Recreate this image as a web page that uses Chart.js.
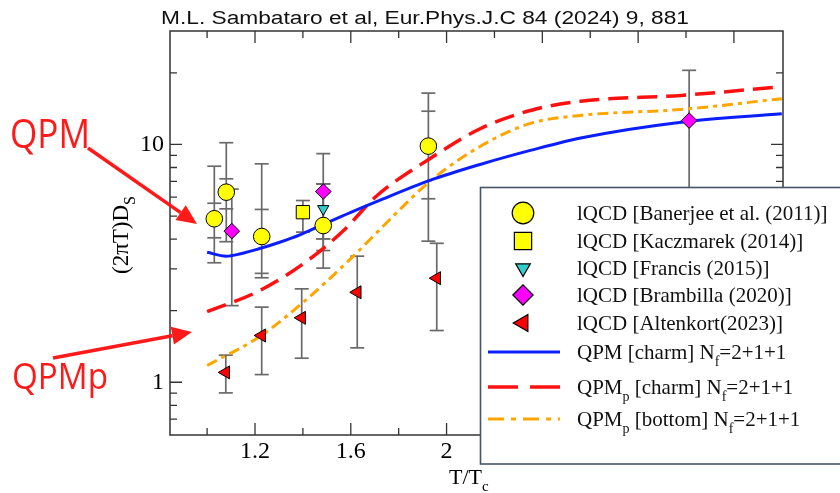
<!DOCTYPE html>
<html>
<head>
<meta charset="utf-8">
<script src="https://cdn.jsdelivr.net/npm/chart.js@4.4.1/dist/chart.umd.min.js"></script>
<style>
  html, body { margin: 0; padding: 0; background: #fff; }
</style>
</head>
<body>
<canvas id="dsChart" width="840" height="493"></canvas>
<script>
// axis ticks
const xTicks = [1.2, 1.6, 2, 2.4, 2.8, 3.2];
const xMinorTicks = [1.0, 1.4, 1.8, 2.2, 2.6, 3.0];
const yTicks = [1, 10];
const yMinorTicks = [0.7, 0.8, 0.9, 2, 3, 4, 5, 6, 7, 8, 9, 20];

// lQCD points: T/Tc, (2piT)Ds, outer and inner error ranges
const banerjeeT = [1.03, 1.08, 1.228, 1.485, 1.924];
const banerjeeD = [4.87, 6.30, 4.10, 4.56, 9.84];
const banerjeeOuter = [[3.18, 8.10], [3.90, 10.17], [2.75, 8.29], [3.58, 6.83], [3.92, 16.44]];
const banerjeeInner = [[4.05, 5.66], [5.36, 7.17], [2.87, 5.33], [4.01, 6.83], [5.91, 13.8]];

const kaczmarekT = [1.40];
const kaczmarekD = [5.19];
const kaczmarekErr = [[4.28, 5.81]];

const francisT = [1.485];
const francisD = [5.36];
const francisErr = [[4.01, 6.83]];

const brambillaT = [1.103, 1.485, 3.013];
const brambillaD = [4.32, 6.34, 12.6];
const brambillaErr = [[2.10, 6.49], [3.02, 9.15], [5.0, 20.5]];

const altenkortT = [1.078, 1.228, 1.395, 1.627, 1.959];
const altenkortD = [1.10, 1.573, 1.866, 2.39, 2.74];
const altenkortErr = [[0.902, 1.30], [1.077, 2.07], [1.262, 2.47], [1.395, 3.39], [1.65, 3.84]];

// model curves
const qpmT = [1.0, 1.08, 1.14, 1.22, 1.30, 1.39, 1.485, 1.60, 1.71, 1.93, 2.14, 2.35, 2.56, 2.98, 3.40];
const qpmD = [3.52, 3.39, 3.47, 3.65, 3.87, 4.18, 4.61, 5.18, 5.76, 7.06, 8.24, 9.44, 10.65, 12.41, 13.46];

const qpmpCharmT = [1.0, 1.22, 1.42, 1.57, 1.71, 1.93, 2.14, 2.35, 2.56, 2.98, 3.40];
const qpmpCharmD = [1.98, 2.43, 3.25, 4.35, 6.10, 8.71, 11.64, 13.9, 15.2, 16.08, 17.5];

const qpmpBottomT = [1.0, 1.22, 1.40, 1.60, 1.78, 1.93, 2.14, 2.35, 2.56, 2.98, 3.40];
const qpmpBottomD = [1.176, 1.557, 2.164, 3.31, 5.03, 6.99, 9.81, 12.26, 13.25, 14.04, 15.57];

const toPoints = (xs, ys) => xs.map((t, i) => ({ x: t, y: ys[i] }));

const SERIF = "'Liberation Serif', 'Times New Roman', serif";

function drawRich(ctx, parts, x, y, size) {
    let cx = x;
    parts.forEach(p => {
        const sub = p[1] === 1;
        ctx.font = (sub ? Math.round(size * 0.68) : size) + 'px ' + SERIF;
        ctx.fillText(p[0], cx, sub ? y + size * 0.32 : y);
        cx += ctx.measureText(p[0]).width;
    });
    return cx - x;
}

function richWidth(ctx, parts, size) {
    let w = 0;
    parts.forEach(p => {
        ctx.font = (p[1] === 1 ? Math.round(size * 0.68) : size) + 'px ' + SERIF;
        w += ctx.measureText(p[0]).width;
    });
    return w;
}

function fitText(ctx, text, x, baseline, width, size, family) {
    ctx.font = size + 'px ' + family;
    const w = ctx.measureText(text).width;
    ctx.save();
    ctx.translate(x, baseline);
    ctx.scale(width / w, 1);
    ctx.fillText(text, 0, 0);
    ctx.restore();
}

function arrow(ctx, x1, y1, x2, y2) {
    const a = Math.atan2(y2 - y1, x2 - x1);
    const len = 20, hw = 9;
    const bx = x2 - Math.cos(a) * len, by = y2 - Math.sin(a) * len;
    ctx.beginPath();
    ctx.moveTo(x1, y1);
    ctx.lineTo(bx, by);
    ctx.stroke();
    ctx.beginPath();
    ctx.moveTo(x2, y2);
    ctx.lineTo(bx - Math.sin(a) * hw, by + Math.cos(a) * hw);
    ctx.lineTo(bx + Math.sin(a) * hw, by - Math.cos(a) * hw);
    ctx.closePath();
    ctx.fill();
}

// error bars drawn under the markers and curves
const errorBars = {
    id: 'errorBars',
    beforeDatasetsDraw(chart) {
        const { ctx, chartArea: ca, scales: { x, y } } = chart;
        ctx.save();
        ctx.beginPath();
        ctx.rect(ca.left, ca.top, ca.width, ca.height);
        ctx.clip();
        ctx.strokeStyle = '#6a6a6a';
        ctx.lineWidth = 1.7;
        const cap = (px, v) => {
            const py = y.getPixelForValue(v);
            ctx.beginPath();
            ctx.moveTo(px - 7, py);
            ctx.lineTo(px + 7, py);
            ctx.stroke();
        };
        chart.data.datasets.forEach(ds => {
            if (!ds.errOuter) return;
            ds.data.forEach((p, i) => {
                const px = x.getPixelForValue(p.x);
                const o = ds.errOuter[i];
                ctx.beginPath();
                ctx.moveTo(px, y.getPixelForValue(o[0]));
                ctx.lineTo(px, y.getPixelForValue(o[1]));
                ctx.stroke();
                cap(px, o[0]);
                cap(px, o[1]);
                if (ds.errInner) {
                    cap(px, ds.errInner[i][0]);
                    cap(px, ds.errInner[i][1]);
                }
            });
        });
        ctx.restore();
    }
};

// frame with inward ticks, titles, annotations and legend
const decorations = {
    id: 'decorations',
    afterDraw(chart) {
        const { ctx, chartArea: ca, scales: { x, y } } = chart;
        ctx.save();

        // frame
        ctx.strokeStyle = '#333';
        ctx.lineWidth = 1.5;
        ctx.strokeRect(ca.left, ca.top, ca.width, ca.height);
        ctx.lineWidth = 1.3;
        const tx = (v, len) => {
            const px = x.getPixelForValue(v);
            ctx.beginPath();
            ctx.moveTo(px, ca.bottom); ctx.lineTo(px, ca.bottom - len);
            ctx.moveTo(px, ca.top); ctx.lineTo(px, ca.top + len);
            ctx.stroke();
        };
        const ty = (v, len) => {
            const py = y.getPixelForValue(v);
            ctx.beginPath();
            ctx.moveTo(ca.left, py); ctx.lineTo(ca.left + len, py);
            ctx.moveTo(ca.right, py); ctx.lineTo(ca.right - len, py);
            ctx.stroke();
        };
        xTicks.forEach(v => tx(v, 12));
        xMinorTicks.forEach(v => tx(v, 7));
        yTicks.forEach(v => ty(v, 12));
        yMinorTicks.forEach(v => ty(v, 7));

        // title
        ctx.fillStyle = '#111';
        ctx.textBaseline = 'alphabetic';
        fitText(ctx, 'M.L. Sambataro et al, Eur.Phys.J.C 84 (2024) 9, 881', 161, 24, 528, 18, "'Liberation Sans', Arial, sans-serif");

        // y title
        ctx.fillStyle = '#000';
        const yParts = [['(2\u03c0T)D'], ['S', 1]];
        ctx.save();
        ctx.translate(128, 235);
        ctx.rotate(-Math.PI / 2);
        const yw = richWidth(ctx, yParts, 23);
        drawRich(ctx, yParts, -yw / 2, 0, 23);
        ctx.restore();

        // annotations
        ctx.fillStyle = '#ff1a1a';
        ctx.strokeStyle = '#ff1a1a';
        ctx.lineWidth = 3.5;
        fitText(ctx, 'QPM', 10, 148, 80, 41, "'Open Sans', sans-serif");
        fitText(ctx, 'QPMp', 12, 389, 96, 37, "'Open Sans', sans-serif");
        arrow(ctx, 88, 148, 197, 224);
        arrow(ctx, 53, 358, 192, 332);

        // legend
        const lx = 480.5, ly = 187.5;
        ctx.fillStyle = '#fff';
        ctx.fillRect(lx, ly, 860 - lx, 464 - ly);
        ctx.strokeStyle = '#44546a';
        ctx.lineWidth = 1.6;
        ctx.strokeRect(lx, ly, 860 - lx, 464 - ly);

        const rows = [213, 241, 268, 295, 323, 352, 387, 419];
        const texts = [
            [['lQCD [Banerjee et al. (2011)]']],
            [['lQCD [Kaczmarek (2014)]']],
            [['lQCD [Francis (2015)]']],
            [['lQCD [Brambilla (2020)]']],
            [['lQCD [Altenkort(2023)]']],
            [['QPM [charm] N'], ['f', 1], ['=2+1+1']],
            [['QPM'], ['p', 1], [' [charm] N'], ['f', 1], ['=2+1+1']],
            [['QPM'], ['p', 1], [' [bottom] N'], ['f', 1], ['=2+1+1']]
        ];
        const order = [3, 4, 5, 6, 7, 0, 1, 2];
        rows.forEach((ry, i) => {
            const ds = chart.data.datasets[order[i]];
            if (ds.showLine) {
                ctx.strokeStyle = ds.borderColor;
                ctx.lineWidth = ds.borderWidth;
                ctx.setLineDash(ds.legendDash || []);
                ctx.beginPath();
                ctx.moveTo(488, ry);
                ctx.lineTo(560, ry);
                ctx.stroke();
                ctx.setLineDash([]);
            } else {
                ctx.fillStyle = ds.backgroundColor;
                ctx.strokeStyle = '#000';
                ctx.lineWidth = 1.2;
                Chart.helpers.drawPoint(ctx, {
                    pointStyle: ds.pointStyle,
                    rotation: ds.pointRotation || 0,
                    radius: ds.pointRadius * 1.3,
                    borderWidth: 1.2
                }, 523, ry);
            }
            ctx.fillStyle = '#111';
            drawRich(ctx, texts[i], 577, ry + 7, 21);
        });

        // x title
        ctx.fillStyle = '#000';
        drawRich(ctx, [['T/T'], ['c', 1]], 449, 484, 22);

        ctx.restore();
    }
};

const tickFont = { family: SERIF, size: 24 };

const chart = new Chart(document.getElementById('dsChart'), {
    type: 'scatter',
    data: {
        datasets: [
            {
                label: 'QPM [charm]',
                data: toPoints(qpmT, qpmD),
                showLine: true,
                borderColor: '#0a1eff',
                borderWidth: 3,
                pointRadius: 0,
                cubicInterpolationMode: 'monotone',
                order: 10
            },
            {
                label: 'QPMp [charm]',
                data: toPoints(qpmpCharmT, qpmpCharmD),
                showLine: true,
                borderColor: '#ff1010',
                borderWidth: 3.5,
                borderDash: [20, 9],
                legendDash: [30, 12],
                pointRadius: 0,
                cubicInterpolationMode: 'monotone',
                order: 11
            },
            {
                label: 'QPMp [bottom]',
                data: toPoints(qpmpBottomT, qpmpBottomD),
                showLine: true,
                borderColor: '#ffa500',
                borderWidth: 3,
                borderDash: [11, 5, 4, 5],
                legendDash: [16, 7, 5, 7],
                pointRadius: 0,
                cubicInterpolationMode: 'monotone',
                order: 12
            },
            {
                label: 'lQCD [Banerjee et al. (2011)]',
                data: toPoints(banerjeeT, banerjeeD),
                errOuter: banerjeeOuter,
                errInner: banerjeeInner,
                pointStyle: 'circle',
                pointRadius: 8.3,
                backgroundColor: '#ffff00',
                borderColor: '#000',
                borderWidth: 1,
                order: 5
            },
            {
                label: 'lQCD [Kaczmarek (2014)]',
                data: toPoints(kaczmarekT, kaczmarekD),
                errOuter: kaczmarekErr,
                pointStyle: 'rect',
                pointRadius: 9.4,
                backgroundColor: '#ffff00',
                borderColor: '#000',
                borderWidth: 1,
                order: 4
            },
            {
                label: 'lQCD [Francis (2015)]',
                data: toPoints(francisT, francisD),
                errOuter: francisErr,
                pointStyle: 'triangle',
                pointRotation: 180,
                rotation: 180,
                pointRadius: 6.5,
                backgroundColor: '#33cccc',
                borderColor: '#000',
                borderWidth: 1,
                order: 3
            },
            {
                label: 'lQCD [Brambilla (2020)]',
                data: toPoints(brambillaT, brambillaD),
                errOuter: brambillaErr,
                pointStyle: 'rectRot',
                pointRadius: 7.8,
                backgroundColor: '#ff00ff',
                borderColor: '#000',
                borderWidth: 1,
                order: 2
            },
            {
                label: 'lQCD [Altenkort(2023)]',
                data: toPoints(altenkortT, altenkortD),
                errOuter: altenkortErr,
                pointStyle: 'triangle',
                pointRotation: 270,
                rotation: 270,
                pointRadius: 7.5,
                backgroundColor: '#ff0000',
                borderColor: '#000',
                borderWidth: 1,
                order: 1
            }
        ]
    },
    options: {
        responsive: false,
        devicePixelRatio: 1,
        animation: false,
        layout: { padding: { top: 31, right: 57, left: 0, bottom: 0 } },
        plugins: {
            legend: { display: false },
            tooltip: { enabled: false }
        },
        scales: {
            x: {
                type: 'linear',
                min: 0.845,
                max: 3.405,
                afterFit(scale) { scale.height = 58; },
                afterBuildTicks(scale) { scale.ticks = xTicks.map(v => ({ value: v })); },
                ticks: {
                    font: tickFont,
                    color: '#000',
                    padding: 2,
                    maxRotation: 0,
                    autoSkip: false,
                    callback: v => String(Math.round(v * 10) / 10)
                },
                grid: { display: false, drawTicks: false },
                border: { display: false }
            },
            y: {
                type: 'logarithmic',
                min: 0.6,
                max: 30,
                afterFit(scale) { scale.width = 170; },
                afterBuildTicks(scale) { scale.ticks = yTicks.map(v => ({ value: v })); },
                ticks: {
                    font: tickFont,
                    color: '#000',
                    padding: 6,
                    autoSkip: false,
                    callback: v => String(v)
                },
                grid: { display: false, drawTicks: false },
                border: { display: false }
            }
        }
    },
    plugins: [errorBars, decorations]
});
</script>
</body>
</html>
